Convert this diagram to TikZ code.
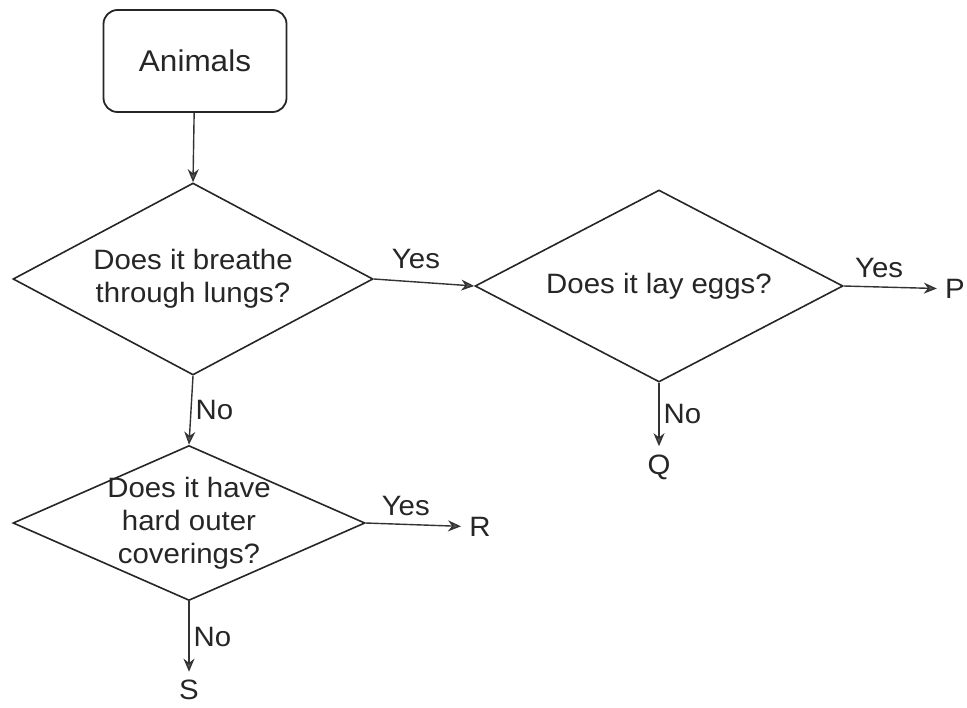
\documentclass[tikz,border=0pt]{standalone}
\usepackage{fontspec}
\setmainfont{Liberation Sans}[FakeStretch=1.05]
\usetikzlibrary{arrows.meta,shapes.geometric}

\begin{document}
\begin{tikzpicture}[x=0.5pt, y=-0.5pt,
        every node/.style={font=\fontsize{14}{16.5}\selectfont, text=black!85},
        startbox/.style={draw=black!85, line width=0.9pt, rounded corners=7pt,
            minimum width=91.5pt, minimum height=51pt, font=\fontsize{15}{17}\selectfont},
        question/.style={draw=black!85, line width=0.8pt, diamond, inner sep=0pt, align=center},
        leaf/.style={inner sep=4pt},
        lbl/.style={inner sep=2pt},
        flow/.style={->, draw=black!80, line width=0.7pt},
        >={Stealth[length=6.5pt,width=5.5pt,fill=black!65]}]
            %\draw[lightgray] (0, 0) grid[step=50] (967, 707);
            \useasboundingbox (0, 0) rectangle (967, 707);
            \node[startbox] (animals) at (195, 61) {Animals};
            \node[question, aspect=1.875, minimum width=180pt, minimum height=96pt] (lungs) at (193, 279)
                {Does it breathe\\through lungs?};
            \node[question, aspect=1.92, minimum width=184pt, minimum height=96pt] (eggs) at (659, 286)
                {Does it lay eggs?};
            \node[question, aspect=2.27, inner sep=-4pt, minimum width=176pt, minimum height=77.5pt] (shell) at (189, 523)
                {Does it have\\hard outer\\coverings?};
            \node[leaf] (P) at (955, 289) {P};
            \node[leaf] (Q) at (659, 467) {Q};
            \node[leaf] (R) at (480, 527) {R};
            \node[leaf] (S) at (189, 690) {S};
            \draw[flow] (animals) -- (lungs.north);
            \draw[flow] (lungs.east) -- node[lbl, above=4pt, pos=0.42] {Yes} (eggs.west);
            \draw[flow] (eggs.east) -- node[lbl, above=2pt, pos=0.38] {Yes} (P);
            \draw[flow] (eggs.south) -- node[lbl, right] {No} (Q);
            \draw[flow] (lungs.south) -- node[lbl, right] {No} (shell.north);
            \draw[flow] (shell.east) -- node[lbl, above=2pt, pos=0.42] {Yes} (R);
            \draw[flow] (shell.south) -- node[lbl, right] {No} (S);
        \end{tikzpicture}
\end{document}
